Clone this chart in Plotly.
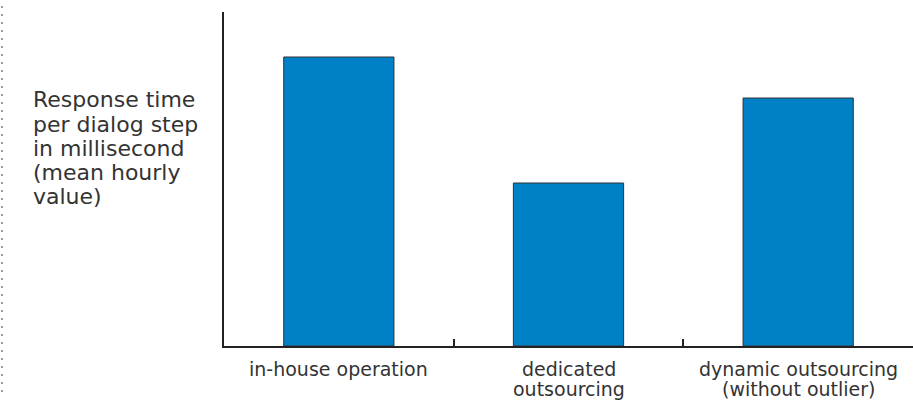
import plotly.graph_objects as go

# Categories and mean hourly response time (relative units)
categories = ["in-house operation", "dedicated outsourcing", "dynamic outsourcing (without outlier)"]
category_lines = [["in-house operation"], ["dedicated", "outsourcing"], ["dynamic outsourcing", "(without outlier)"]]
response_time = [289, 163, 248]
y_max = 334
title_lines = ["Response time", "per dialog step", "in millisecond", "(mean hourly", "value)"]

W, H = 913, 401
L, R, T, B = 224, 0, 12, 55
plot_w = W - L - R
plot_h = H - T - B


def px_y(py):
    """Convert a pixel row (from the top of the page) to paper y."""
    return (H - B - py) / plot_h


def px_x(px):
    return (px - L) / plot_w


FONT = "DejaVu Sans"
TEXT = "#333333"

fig = go.Figure(
    go.Bar(
        x=categories,
        y=response_time,
        width=0.48,
        marker=dict(color="#0080C6", line=dict(color="#333333", width=1)),
    )
)

# dotted frame edge on the far left
fig.add_shape(
    type="line", xref="paper", yref="paper",
    x0=px_x(2), x1=px_x(2), y0=px_y(6), y1=px_y(392),
    line=dict(color="#9a9a9a", width=2, dash="2px,6px"),
)

# value axis caption, one line per row for tight leading
for i, line in enumerate(title_lines):
    fig.add_annotation(
        xref="paper", yref="paper",
        x=px_x(31), y=px_y(100 + 24 * i),
        xanchor="left", yanchor="middle", align="left", showarrow=False,
        text=line, font=dict(family=FONT, size=22, color=TEXT),
    )

# category labels under each bar
for cat, lines in zip(categories, category_lines):
    for j, line in enumerate(lines):
        fig.add_annotation(
            xref="x", yref="paper",
            x=cat, y=px_y(369 + 20 * j),
            xanchor="center", yanchor="middle", showarrow=False,
            text=line, font=dict(family=FONT, size=19, color=TEXT),
        )

fig.update_layout(
    width=W, height=H,
    margin=dict(l=L, r=R, t=T, b=B),
    paper_bgcolor="white", plot_bgcolor="white",
    showlegend=False,
    font=dict(family=FONT, size=15, color=TEXT),
    xaxis=dict(
        type="category", showline=True, linecolor="#222222", linewidth=2,
        ticks="inside", tickson="boundaries", ticklen=7, tickwidth=2, tickcolor="#222222",
        showticklabels=False, showgrid=False, zeroline=False, fixedrange=True,
    ),
    yaxis=dict(
        range=[0, y_max], showline=True, linecolor="#222222", linewidth=2,
        showticklabels=False, ticks="", showgrid=False, zeroline=False,
    ),
)

fig.write_html("out.html")
